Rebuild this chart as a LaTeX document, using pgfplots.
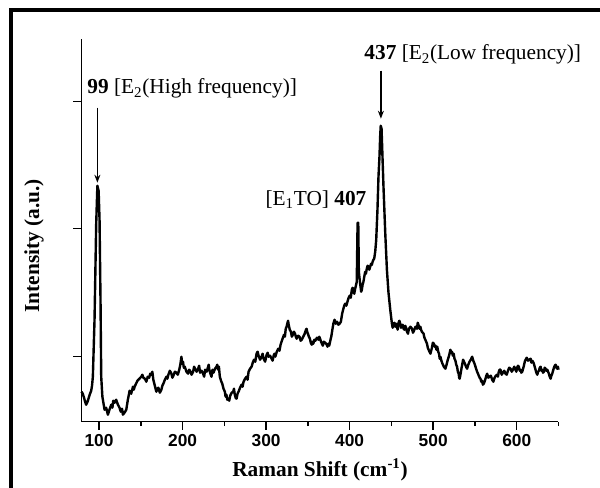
\documentclass[border=0pt]{standalone}
\usepackage{fontspec}
\setmainfont{Liberation Serif}
\setsansfont{Liberation Sans}
\usepackage{pgfplots}
\pgfplotsset{compat=1.18}
\usetikzlibrary{arrows.meta}
\begin{document}
\begin{tikzpicture}
\useasboundingbox (-61.125pt,-49.725pt) rectangle (388.875pt,316.275pt);
\draw[line width=2.5pt, line join=miter] (-52.875pt,-70pt) -- (-52.875pt,308.775pt) -- (420pt,308.775pt);
\begin{axis}[
  scale only axis, width=357.75pt, height=287pt,
  at={(0pt,0pt)}, anchor=south west,
  xmin=79, xmax=650, ymin=0, ymax=382.7,
  axis x line=bottom, axis y line=left,
  axis line style={-, line width=1.1pt, black},
  xtick={100,200,300,400,500,600},
  minor xtick={150,250,350,450,550,650},
  ytick={65,193,320}, yticklabels={},
  tick align=outside,
  major tick length=6pt, minor tick length=3.3pt,
  every tick/.style={line width=1.1pt, black},
  /pgf/number format/assume math mode=true,
  xticklabel style={font=\fontsize{13}{15}\selectfont\sffamily\bfseries},
  clip=false,
]
\addplot[black, line width=1.8pt, line join=round] coordinates {
(79,30) (80.5,28) (82,24) (83.3,20) (84.6,17) (85.8,19) (87,22) (88.8,27) (90.6,31) (91.6,36)
(92.6,45) (94.6,102) (96.6,198) (98,236) (99.5,231) (100.6,202) (101.8,118) (102.6,45) (104,25)
(106.6,12) (108.5,14) (110.6,7) (112.5,12) (114.6,17) (116,14) (117,21) (118.6,19) (120.5,22) (122.6,17)
(124.5,14) (126,10) (127.5,13) (128.6,7) (130.5,9) (132.6,12) (134.5,22) (136.6,31) (138.5,28) (140.6,35)
(141.6,32) (142.6,35) (144.3,38) (146,41) (148.3,43) (150.6,45) (151.8,47) (153,44) (154.8,43) (156.6,40)
(158.3,45) (160,44) (161.3,48) (162.6,47) (163.8,50) (165,42) (166.8,36) (168.6,30) (169.8,33) (171,34)
(172.8,29) (174.6,32) (175.8,36) (177,38) (178.8,42) (180.6,45) (181.8,43) (183,47) (184.8,51) (186.6,48)
(187.8,44) (189,46) (190.8,50) (192.6,49) (194.3,47) (196,52) (197.3,57) (198.6,65) (199.5,58) (200.5,60)
(201.5,54) (202.6,55) (204.6,50) (206.6,48) (207.8,52) (209,51) (210.8,47) (212.6,50) (213.8,55) (215,53)
(216.8,50) (218.6,53) (219.8,56) (221,49) (222.8,51) (224.6,48) (225.8,45) (227,52) (228.8,50) (230.6,55)
(231.3,57) (232,52) (233.3,48) (234.6,45) (235.8,52) (237,49) (238.8,53) (240.6,55) (241.5,57) (242.5,52)
(243.5,55) (244.6,45) (246,41) (247.5,38) (249,33) (250.6,30) (251.5,25) (252.5,27) (253.5,22) (254.6,23)
(255.8,21) (257,26) (258.8,29) (260.6,30) (261.5,33) (262.5,27) (263.5,24) (264.6,23) (265.8,28) (267,30)
(268.8,34) (270.6,37) (271.8,35) (273,40) (274.8,43) (276.6,45) (277.8,42) (279,50) (280.8,53) (282.6,55)
(284,59) (285.5,62) (287,60) (288.6,68) (289.8,70) (291,66) (292.8,62) (294.6,65) (295.8,68) (297,63)
(298.8,60) (300.6,67) (301.8,69) (303,65) (304.8,66) (306.6,63) (307.8,61) (309,66) (310,68) (311,65)
(312.8,70) (314.5,73) (316,71) (317.3,77) (319.3,82) (321.4,87) (322.5,85) (323.5,93) (324.5,95) (325.6,99)
(326.3,101) (327,97) (328.3,92) (329.7,90) (330.8,85) (332,87) (333.3,90) (334.6,88) (335.6,85) (336.6,83)
(338.3,86) (340,85) (341.3,81) (342.6,82) (344.4,85) (346.2,88) (347.3,91) (348.4,93) (349.2,90) (350,88)
(351.2,85) (352.4,83) (353.5,79) (354.6,77) (355.5,80) (356.5,78) (357.8,82) (359,81) (360.8,84) (362.7,82)
(363.6,85) (364.6,83) (365.7,80) (366.8,78) (367.9,76) (369,80) (370.8,79) (372.6,77) (373.5,75) (374.5,78)
(375.5,76) (376.6,80) (377.3,83) (378,85) (379.3,92) (380.5,98) (381.9,102) (383.3,98) (384.9,100) (386.5,97)
(388,98) (389.5,100) (391,108) (392.5,113) (393.5,116) (394.6,118) (396,116) (397.7,121) (398.8,124) (400,126)
(401.3,124) (402.6,132) (403.5,134) (404.5,130) (405.5,128) (406.6,133) (407.5,136) (408.5,140) (409.5,199) (410.3,199)
(411,150) (412,142) (413,135) (413.8,130) (414.6,132) (415.5,137) (416.5,140) (417.5,145) (418.6,150) (419.5,148)
(420.5,153) (421.5,156) (422.5,155) (423.5,152) (424.6,155) (425.6,158) (426.6,157) (427.5,160) (428.5,162) (429.4,163)
(430.6,170) (431.8,182) (433.3,212) (434.5,245) (435.7,265) (436.5,285) (437.2,296) (438.2,293) (439.5,260) (440.5,235)
(442.6,189) (444.6,152) (446.5,129) (448.6,112) (450.6,98) (451.5,94) (452.5,97) (453.5,99) (454.6,95) (455.6,98)
(456.6,95) (457.5,92) (458.5,99) (459.5,101) (460.6,98) (461.5,94) (462.5,95) (463.5,97) (464.5,93) (465.5,92)
(466.5,96) (467.5,94) (468.6,90) (469.8,88) (471,93) (472.8,95) (474.6,93) (475.8,89) (477,91) (478.8,95)
(480.6,93) (481.5,99) (482.3,97) (483.5,93) (484.6,95) (485.5,92) (486.4,90) (488.5,88) (489.5,84) (490.6,82)
(491.6,80) (492.6,78) (493.5,74) (494.5,72) (495.6,70) (496.7,68) (497.6,71) (498.5,74) (499.6,79) (500.8,78)
(501.8,75) (502.8,76) (503.8,72) (504.9,75) (506,70) (507,68) (507.8,63) (508.6,65) (509.8,61) (511.1,58)
(512.8,55) (514.6,53) (516,57) (517.5,62) (519,66) (520.6,72) (521.5,69) (522.5,70) (523.5,66) (524.5,68)
(525.5,63) (526.6,61) (527.6,57) (528.6,55) (529.5,50) (530.5,48) (531.1,44) (531.7,43) (532.6,47) (533.6,52)
(534.7,57) (535.8,62) (536.9,60) (538,58) (539.3,55) (540.6,53) (542,57) (543.5,60) (545,62) (546.6,65)
(548,61) (549.5,58) (551,54) (552.6,50) (553.6,48) (554.6,46) (555.6,44) (556.6,43) (557.5,40) (558.5,41)
(559.5,37) (560.5,38) (561.5,40) (562.6,43) (563.6,46) (564.6,48) (566,44) (567.5,45) (569,46) (570.6,42)
(572,40) (573.5,44) (575,46) (576.6,47) (577.5,45) (578.5,50) (579.5,52) (580.6,52) (582,47) (583.5,49)
(585,51) (586.6,48) (588,47) (589.5,51) (591,54) (592.6,53) (594,50) (595.5,52) (597,55) (598.6,52)
(599.5,50) (600.5,54) (601.5,56) (602.5,55) (603.5,51) (604.5,52) (605.5,49) (606.6,50) (607.6,53) (608.6,56)
(609.6,60) (610.6,62) (612,64) (613.5,61) (615,62) (616.6,63) (617.5,59) (618.5,61) (619.5,60) (620.5,58)
(621.5,55) (622.5,52) (623.5,49) (624.6,47) (625.6,50) (626.6,51) (627.6,54) (628.6,55) (629.5,51) (630.5,52)
(631.5,49) (632.5,50) (633.5,54) (634.5,53) (635.5,51) (636.6,52) (637.5,50) (638.5,48) (639.5,45) (640.6,43)
(641.5,46) (642.5,48) (643.5,51) (644.5,54) (645.5,56) (646.6,57) (647.5,54) (648.5,53) (649.3,55) (650,52)
};
\draw[line width=1.3pt, -{Stealth[length=6pt,width=4.5pt]}] (axis cs:98,314) -- (axis cs:98,239);
\draw[line width=1.3pt, -{Stealth[length=6pt,width=4.5pt]}] (axis cs:437.4,351) -- (axis cs:437.4,303);
\node[anchor=west, inner sep=0pt, font=\fontsize{16}{19}\selectfont] at (axis cs:85.8,333) {\textbf{99} [E\textsubscript{2}(High frequency)]};
\node[anchor=west, inner sep=0pt, font=\fontsize{16}{19}\selectfont] at (axis cs:417.4,367) {\textbf{437} [E\textsubscript{2}(Low frequency)]};
\node[anchor=east, inner sep=0pt, font=\fontsize{16}{19}\selectfont] at (axis cs:420.3,222) {[E\textsubscript{1}TO] \textbf{407}};
\node[rotate=90, font=\fontsize{16}{19}\selectfont\bfseries] at (axis description cs:-0.0996,0.46) {Intensity (a.u.)};
\node[anchor=base, font=\fontsize{16}{19}\selectfont\bfseries] at (axis description cs:0.5,-0.143) {Raman Shift (cm\textsuperscript{-1})};
\end{axis}
\end{tikzpicture}
\end{document}
